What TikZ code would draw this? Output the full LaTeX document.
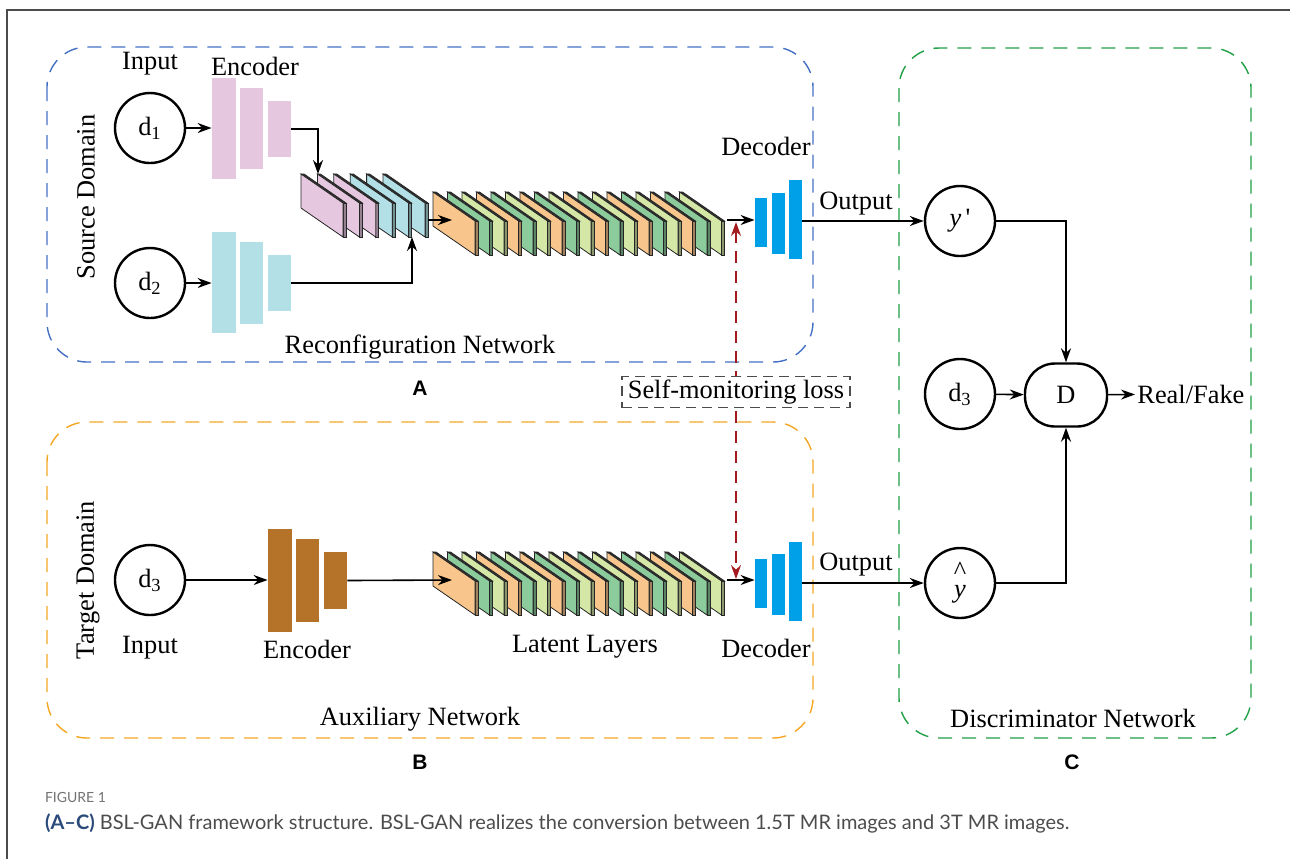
\documentclass[tikz,border=0pt]{standalone}
\usepackage{fontspec}
\setmainfont{Liberation Serif}
\newfontfamily\capfont{Lato}
\newfontfamily\panelfont{Liberation Sans}
\usetikzlibrary{arrows.meta,fit,positioning}

\definecolor{encpink}{HTML}{E6C7E0}
\definecolor{encblue}{HTML}{B3DFE6}
\definecolor{encbrown}{HTML}{B5732A}
\definecolor{decblue}{HTML}{00A0E9}
\definecolor{lat0}{HTML}{F8C68C}
\definecolor{lat1}{HTML}{8CCB9C}
\definecolor{lat2}{HTML}{D4E7A6}
\definecolor{boxblue}{HTML}{4470C4}
\definecolor{boxorange}{HTML}{F5A623}
\definecolor{boxgreen}{HTML}{1FA045}
\definecolor{lossred}{HTML}{A31A1F}
\definecolor{capblue}{HTML}{2A4A7A}

% one thin feature map, (#1,#2) is its top left corner
\newcommand{\plate}[3]{%
  \filldraw[fill=#3!65!black, draw=black!85, line width=0.4pt] (#1+42,#2+29) -- ++(3,0) -- ++(0,34) -- ++(-3,0) -- cycle;
  \filldraw[fill=black!80, draw=black!85, line width=0.4pt] (#1,#2) -- ++(3,0) -- ++(42,29) -- ++(-3,0) -- cycle;
  \filldraw[fill=#3, draw=black!85, line width=0.4pt] (#1,#2) -- ++(42,29) -- ++(0,34) -- ++(-42,-29) -- cycle;
}

\tikzset{
  circ/.style={circle, draw, line width=1.2pt, minimum size=35pt, inner sep=0pt},
  bar/.style={inner sep=0pt, draw=none, fill=#1},
  arr/.style={-{Stealth[length=7pt,width=5pt]}, line width=0.8pt},
  region/.style={dashed, dash pattern=on 7pt off 5pt, line width=0.7pt, rounded corners=20pt},
  panel/.style={font=\panelfont\bfseries\fontsize{10.5}{12}\selectfont},
}

\begin{document}
\begin{tikzpicture}[x=0.5pt, y=-0.5pt, font=\fontsize{13.2}{15}\selectfont]
  \useasboundingbox (0,0) rectangle (1290,859);
  \draw[gray!60!black, line width=1pt] (1290,10) -- (7,10) -- (7,859);

  % the three parts
  \draw[region, boxblue] (47,47) rectangle (813,362);
  \draw[region, boxorange] (47,422) rectangle (813,738);
  \draw[region, boxgreen] (899,48) rectangle (1251,738);

  %% reconfiguration network
  \node (in1) at (150,64) {Input};
  \node (enc1) at (255,66) {Encoder};
  \node[rotate=90] (src) at (86,197) {Source Domain};
  \node[circ] (d1) at (150,128) {d\textsubscript{1}};
  \node[circ] (d2) at (150,283) {d\textsubscript{2}};

  \node[bar=encpink, fit={(212,78) (236,179)}] (e1a) {};
  \node[bar=encpink, fit={(240,88) (263,169)}] (e1b) {};
  \node[bar=encpink, fit={(268,101) (291,157)}] (e1c) {};
  \node[bar=encblue, fit={(212,232) (236,333)}] (e2a) {};
  \node[bar=encblue, fit={(240,242) (263,324)}] (e2b) {};
  \node[bar=encblue, fit={(268,255) (291,311)}] (e2c) {};

  % merged maps, then the latent layers (back to front)
  \foreach \i/\c in {5/encblue,4/encblue,3/encblue,2/encpink,1/encpink,0/encpink}
    \plate{301+16.4*\i}{174}{\c};
  \foreach \i in {17,16,...,0}{
    \pgfmathtruncatemacro\k{mod(\i,3)}
    \plate{433+14.5*\i}{192}{lat\k}
  }
  \coordinate (pinkIn) at (318,174);
  \coordinate (blueIn) at (412,237);
  \coordinate (mixOut) at (428,220);
  \coordinate (latIn1) at (452,220);
  \coordinate (latOut1) at (727,220);

  \node[bar=decblue, fit={(755,198) (767,247)}] (dc1a) {};
  \node[bar=decblue, fit={(772,193) (785,254)}] (dc1b) {};
  \node[bar=decblue, fit={(789,180) (802,259)}] (dc1c) {};
  \node (dec1) at (766,146) {Decoder};
  \node (out1) at (856,204) {Output};
  \node (recon) at (420,347) {Reconfiguration Network};

  \draw[arr] (d1.east) -- (d1.east -| e1a.west);
  \draw[arr] (d2.east) -- (d2.east -| e2a.west);
  \draw[arr] (e1c.east) -| (pinkIn);
  \draw[arr] (e2c.east) -| (blueIn);
  \draw[arr] (mixOut) -- (latIn1);
  \draw[arr] (latOut1) -- (latOut1 -| dc1a.west);

  %% auxiliary network
  \node[rotate=90] (tgt) at (88,580) {Target Domain};
  \node[circ] (d3) at (150,580) {d\textsubscript{3}};
  \node (in3) at (150,648) {Input};
  \node[bar=encbrown, fit={(268,529) (292,632)}] (e3a) {};
  \node[bar=encbrown, fit={(296,539) (319,622)}] (e3b) {};
  \node[bar=encbrown, fit={(324,552) (347,609)}] (e3c) {};
  \node (enc3) at (307,649) {Encoder};

  \foreach \i in {17,16,...,0}{
    \pgfmathtruncatemacro\k{mod(\i,3)}
    \plate{433+14.5*\i}{552}{lat\k}
  }
  \coordinate (latIn2) at (452,580);
  \coordinate (latOut2) at (727,580);
  \node (latent) at (585,647) {Latent Layers};

  \node[bar=decblue, fit={(755,559) (767,608)}] (dc2a) {};
  \node[bar=decblue, fit={(772,554) (785,615)}] (dc2b) {};
  \node[bar=decblue, fit={(789,542) (802,621)}] (dc2c) {};
  \node (dec2) at (766,648) {Decoder};
  \node (out2) at (856,565) {Output};
  \node (aux) at (420,719) {Auxiliary Network};

  \draw[arr] (d3.east) -- (d3.east -| e3a.west);
  \draw[arr] (e3c.east) -- (latIn2);
  \draw[arr] (latOut2) -- (latOut2 -| dc2a.west);

  %% loss between the two latent stacks
  \coordinate (lossTop) at (736,222);
  \coordinate (lossBot) at (736,579);
  \draw[lossred, line width=0.8pt, dash pattern=on 6pt off 4pt, {Stealth[length=7pt,width=5pt]}-{Stealth[length=7pt,width=5pt]}] (lossTop) -- (lossBot);
  \node[draw=black!70, dashed, dash pattern=on 5pt off 3pt, fill=white, line width=0.6pt,
        minimum width=114pt, minimum height=15.5pt, inner sep=1pt] (loss) at (736,392) {Self-monitoring loss};

  %% discriminator
  \node[circ] (yp) at (960,221) {\textit{y}\,\textquotesingle};
  \node[circ] (d3r) at (960,394) {d\textsubscript{3}};
  \node[circ] (yh) at (960,583) {\shortstack{\textasciicircum\\\textit{y}}};
  \node[draw, line width=1.2pt, rounded corners=15pt, minimum width=41pt, minimum height=31.5pt] (D) at (1066,395) {D};
  \node[anchor=west, inner sep=1pt] (rf) at (1135,394) {Real/Fake};
  \node (disc) at (1073,718) {Discriminator Network};

  \draw[arr] (yp -| dc1c.east) -- (yp);
  \draw[arr] (yh -| dc2c.east) -- (yh);
  \draw[arr] (yp.east) -| (D.north);
  \draw[arr] (yh.east) -| (D.south);
  \draw[arr] (d3r) -- (D);
  \draw[arr] (D) -- (rf);

  %% panel letters and caption
  \node[panel] (pA) at (420,388) {A};
  \node[panel] (pB) at (420,762) {B};
  \node[panel] (pC) at (1072,762) {C};
  \node[anchor=west, text=black!55, font=\capfont\fontsize{7}{9}\selectfont] (fig) at (38,797) {FIGURE 1};
  \node[anchor=west, text=black!70, font=\capfont\fontsize{10}{12}\selectfont] (cap) at (38,823)
    {\textcolor{capblue}{\bfseries(A\textendash C)} BSL-GAN framework structure. BSL-GAN realizes the conversion between 1.5T MR images and 3T MR images.};
\end{tikzpicture}
\end{document}
